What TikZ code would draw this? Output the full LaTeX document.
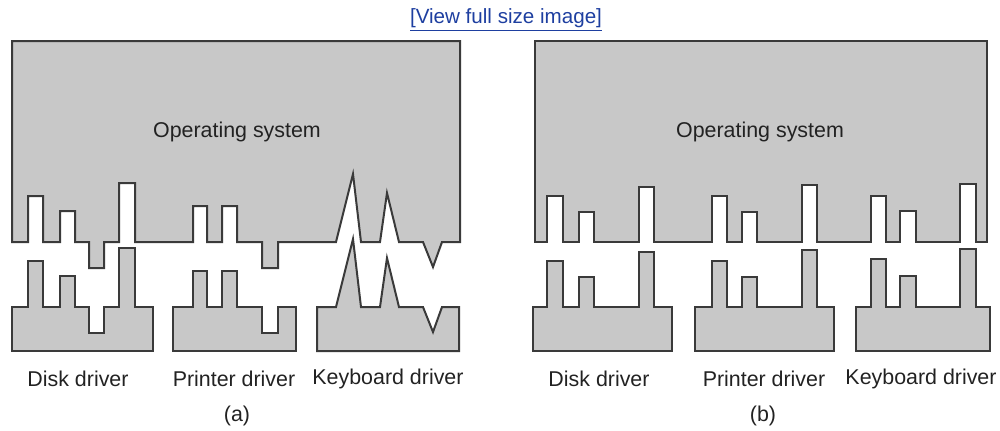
\documentclass[tikz,border=0pt]{standalone}
\usepackage{fontspec}
\setmainfont{Liberation Sans}
\definecolor{shapefill}{HTML}{C8C8C8}
\definecolor{shapeline}{HTML}{3A3A3A}
\definecolor{linkblue}{HTML}{1E3FA0}
\definecolor{labeltext}{HTML}{222222}
\begin{document}
\begin{tikzpicture}[x=0.5pt,y=-0.5pt,
  part/.style={fill=shapefill,draw=shapeline,line width=1pt,line join=miter},
  lbl/.style={inner sep=0pt,text=labeltext,font=\fontsize{10.7}{12}\selectfont},
  linktext/.style={inner sep=0pt,text=linkblue,font=\fontsize{10.3}{12}\selectfont}]
\useasboundingbox (0,0) rectangle (1000,430);
\node[linktext] (link) at (506,20) {\underline{[View full size image]}};
% ---------- (a) ----------
\draw[part] (12,41) -- (460,41) -- (460,242) -- (442,242) -- (433,267) -- (423,242) -- (399,242) -- (387,193) -- (380,242) -- (361,242) -- (353,174) -- (336,242) -- (278,242) -- (278,268) -- (262,268) -- (262,242) -- (237,242) -- (237,206) -- (222,206) -- (222,242) -- (207,242) -- (207,206) -- (193,206) -- (193,242) -- (135,242) -- (135,183) -- (119,183) -- (119,242) -- (104,242) -- (104,268) -- (89,268) -- (89,242) -- (75,242) -- (75,211) -- (60,211) -- (60,242) -- (43,242) -- (43,196) -- (28,196) -- (28,242) -- (12,242) -- cycle;
\draw[part] (12,351) -- (12,307) -- (28,307) -- (28,261) -- (43,261) -- (43,307) -- (60,307) -- (60,276) -- (75,276) -- (75,307) -- (89,307) -- (89,333) -- (104,333) -- (104,307) -- (119,307) -- (119,248) -- (135,248) -- (135,307) -- (153,307) -- (153,351) -- cycle;
\draw[part] (173,351) -- (173,307) -- (193,307) -- (193,271) -- (207,271) -- (207,307) -- (222,307) -- (222,271) -- (237,271) -- (237,307) -- (262,307) -- (262,333) -- (278,333) -- (278,307) -- (296,307) -- (296,351) -- cycle;
\draw[part] (317,351) -- (317,307) -- (336,307) -- (353,239) -- (361,307) -- (380,307) -- (387,258) -- (399,307) -- (423,307) -- (433,332) -- (442,307) -- (459,307) -- (459,351) -- cycle;
\node[lbl] (osa) at (237,132) {Operating system};
\node[lbl] (diska) at (78,379) {Disk driver};
\node[lbl] (printa) at (234,379) {Printer driver};
\node[lbl] (keya) at (388,379) {Keyboard driver};
\node[lbl] (capa) at (237,416) {(a)};
% ---------- (b) ----------
\draw[part] (535,41) -- (987,41) -- (987,242) -- (976,242) -- (976,184) -- (960,184) -- (960,242) -- (916,242) -- (916,211) -- (900,211) -- (900,242) -- (886,242) -- (886,196) -- (871,196) -- (871,242) -- (817,242) -- (817,185) -- (802,185) -- (802,242) -- (757,242) -- (757,212) -- (742,212) -- (742,242) -- (727,242) -- (727,196) -- (712,196) -- (712,242) -- (654,242) -- (654,187) -- (639,187) -- (639,242) -- (594,242) -- (594,212) -- (579,212) -- (579,242) -- (563,242) -- (563,196) -- (547,196) -- (547,242) -- (535,242) -- cycle;
\draw[part] (533,351) -- (533,307) -- (547,307) -- (547,261) -- (563,261) -- (563,307) -- (579,307) -- (579,277) -- (594,277) -- (594,307) -- (639,307) -- (639,252) -- (654,252) -- (654,307) -- (672,307) -- (672,351) -- cycle;
\draw[part] (695,351) -- (695,307) -- (712,307) -- (712,261) -- (727,261) -- (727,307) -- (742,307) -- (742,277) -- (757,277) -- (757,307) -- (802,307) -- (802,250) -- (817,250) -- (817,307) -- (834,307) -- (834,351) -- cycle;
\draw[part] (856,351) -- (856,307) -- (871,307) -- (871,259) -- (886,259) -- (886,307) -- (900,307) -- (900,276) -- (916,276) -- (916,307) -- (960,307) -- (960,249) -- (976,249) -- (976,307) -- (990,307) -- (990,351) -- cycle;
\node[lbl] (osb) at (760,132) {Operating system};
\node[lbl] (diskb) at (599,379) {Disk driver};
\node[lbl] (printb) at (764,379) {Printer driver};
\node[lbl] (keyb) at (921,379) {Keyboard driver};
\node[lbl] (capb) at (763,416) {(b)};
\end{tikzpicture}
\end{document}
